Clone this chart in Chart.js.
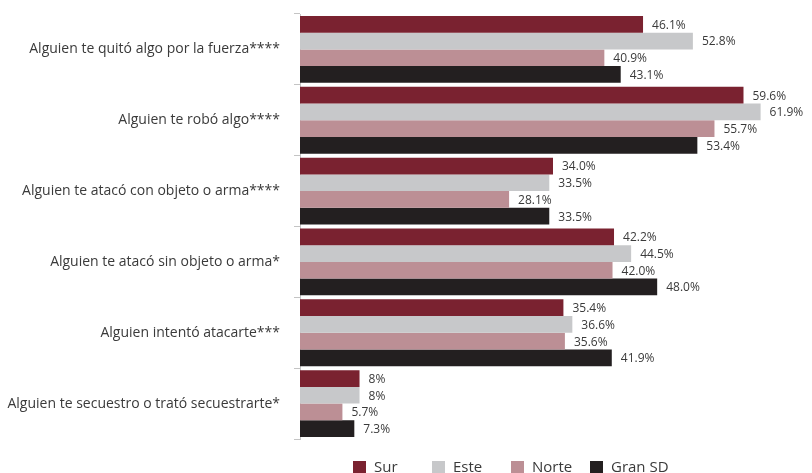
<!DOCTYPE html>
<html lang="es">
<head>
<meta charset="utf-8">
<title>Victimización por zona</title>
<script src="https://cdn.jsdelivr.net/npm/chart.js@4.4.1/dist/chart.umd.min.js"></script>
<style>
  html, body { margin: 0; padding: 0; background: #ffffff; }
  #wrap { width: 812px; height: 473px; }
</style>
</head>
<body>
<div id="wrap"><canvas id="chart" width="812" height="473"></canvas></div>
<script>
// Categories (y axis)
const categories = [
  'Alguien te quitó algo por la fuerza****',
  'Alguien te robó algo****',
  'Alguien te atacó con objeto o arma****',
  'Alguien te atacó sin objeto o arma*',
  'Alguien intentó atacarte***',
  'Alguien te secuestro o trató secuestrarte*'
];

// Percentages per zone, written as they are printed next to each bar
const sur    = ['46.1', '59.6', '34.0', '42.2', '35.4', '8'];
const este   = ['52.8', '61.9', '33.5', '44.5', '36.6', '8'];
const norte  = ['40.9', '55.7', '28.1', '42.0', '35.6', '5.7'];
const granSD = ['43.1', '53.4', '33.5', '48.0', '41.9', '7.3'];

const seriesNames = ['Sur', 'Este', 'Norte', 'Gran SD'];
const seriesColors = ['#7a2230', '#c7c8ca', '#bc8f95', '#231f20'];
const seriesValues = [sur, este, norte, granSD];

const FONT = '"Open Sans", sans-serif';
const TEXT = '#3a3a3a';

// Percentage labels to the right of each bar
const valueLabels = {
  id: 'valueLabels',
  afterDatasetsDraw(chart) {
    const ctx = chart.ctx;
    ctx.save();
    ctx.font = '12px ' + FONT;
    ctx.fillStyle = TEXT;
    ctx.textAlign = 'left';
    ctx.textBaseline = 'middle';
    chart.data.datasets.forEach((ds, di) => {
      const meta = chart.getDatasetMeta(di);
      meta.data.forEach((bar, i) => {
        ctx.fillText(ds.printed[i] + '%', bar.x + 9, bar.y + 1);
      });
    });
    ctx.restore();
  }
};

// Legend row below the plot: square swatches on an even step
const swatchLegend = {
  id: 'swatchLegend',
  afterDraw(chart) {
    const ctx = chart.ctx;
    const area = chart.chartArea;
    const startX = area.left + 53;
    const step = 79;
    const cy = area.bottom + 28;
    ctx.save();
    ctx.font = '15px ' + FONT;
    ctx.textAlign = 'left';
    ctx.textBaseline = 'middle';
    chart.data.datasets.forEach((ds, i) => {
      const x = startX + i * step;
      ctx.fillStyle = ds.backgroundColor;
      ctx.fillRect(x, cy - 6, 13, 13);
      ctx.fillStyle = TEXT;
      ctx.fillText(ds.label, x + 21, cy + 1);
    });
    ctx.restore();
  }
};

const datasets = seriesNames.map((name, i) => ({
  label: name,
  data: seriesValues[i].map(Number),
  printed: seriesValues[i],
  backgroundColor: seriesColors[i],
  borderWidth: 0,
  barPercentage: 1.0,
  categoryPercentage: 0.943
}));

new Chart(document.getElementById('chart'), {
  type: 'bar',
  data: { labels: categories, datasets },
  plugins: [valueLabels, swatchLegend],
  options: {
    indexAxis: 'y',
    responsive: false,
    animation: false,
    layout: { padding: { top: 14, right: 6, bottom: 34, left: 0 } },
    plugins: {
      legend: { display: false },
      tooltip: { enabled: false }
    },
    scales: {
      x: {
        display: false,
        min: 0,
        max: 68
      },
      y: {
        offset: true,
        afterFit(scale) {
          scale.width = 300;
          // labels sit at category centres, so no extra room above/below
          scale.paddingTop = 0;
          scale.paddingBottom = 0;
        },
        border: { display: true, color: '#c4c4c4', width: 1 },
        grid: {
          offset: true,
          drawOnChartArea: false,
          drawTicks: true,
          tickLength: 6,
          color: '#c4c4c4'
        },
        ticks: {
          padding: 14,
          color: TEXT,
          font: { family: FONT, size: 14 }
        }
      }
    }
  }
});
</script>
</body>
</html>
